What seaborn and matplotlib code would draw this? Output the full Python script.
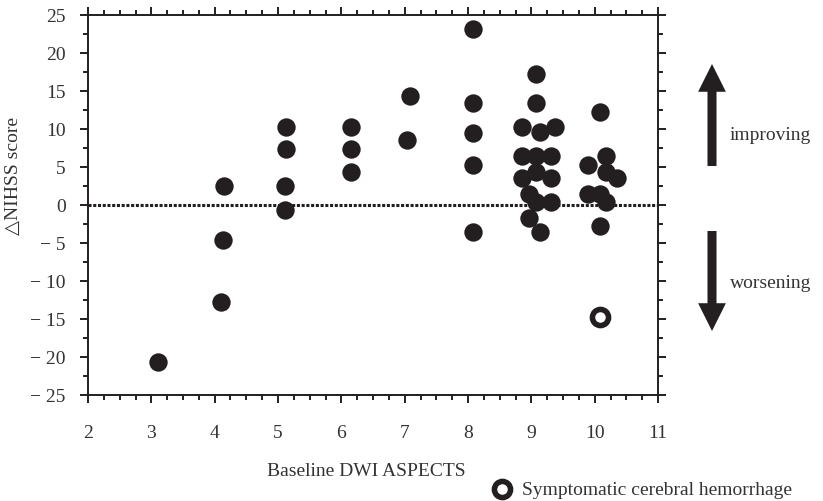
import matplotlib
matplotlib.use('Agg')
import matplotlib.pyplot as plt
from matplotlib.ticker import MultipleLocator
import seaborn as sns

# values (x slightly offset in the original to avoid overlap)
aspects = [3.10,
           4.10, 4.13, 4.14,
           5.12, 5.12, 5.11, 5.11,
           6.16, 6.16, 6.16,
           7.09, 7.04,
           8.08, 8.08, 8.08, 8.08, 8.08,
           9.08, 9.08, 8.86, 9.38, 9.13, 8.86, 9.08, 9.31, 8.86, 9.08, 9.31,
           8.96, 9.08, 9.31, 8.96, 9.13,
           10.08, 10.18, 9.90, 10.18, 10.35, 9.90, 10.08, 10.18, 10.08]
delta_nihss = [-20.7,
               -12.7, -4.6, 2.5,
               10.2, 7.4, 2.5, -0.6,
               10.2, 7.4, 4.3,
               14.4, 8.5,
               23.2, 13.4, 9.5, 5.3, -3.5,
               17.2, 13.4, 10.3, 10.3, 9.6, 6.4, 6.4, 6.4, 3.5, 4.4, 3.5,
               1.5, 0.35, 0.35, -1.7, -3.5,
               12.3, 6.4, 5.3, 4.4, 3.5, 1.5, 1.5, 0.35, -2.7]

# symptomatic cerebral hemorrhage case
sich_aspects = [10.09]
sich_delta = [-14.8]

x_ticks = [2, 3, 4, 5, 6, 7, 8, 9, 10, 11]
y_ticks = [25, 20, 15, 10, 5, 0, -5, -10, -15, -20, -25]
y_tick_labels = ['25', '20', '15', '10', '5', '0', '− 5', '− 10', '− 15', '− 20', '− 25']

sns.set_style('ticks')
plt.rcParams['font.family'] = ['Liberation Serif', 'DejaVu Serif']
plt.rcParams['axes.linewidth'] = 1.4
ink = '#231f20'
txt = '#333333'
fs = 14

fig = plt.figure(figsize=(8.23, 5.02), dpi=100)
ax = fig.add_axes([88 / 823, 1 - 396 / 502, 570 / 823, 380 / 502])

ax.axhline(0, color=ink, lw=2.2, ls=(0, (1, 0.55)), zorder=1)

sns.scatterplot(x=aspects, y=delta_nihss, ax=ax, color=ink, s=175,
                linewidth=0, zorder=3)
sns.scatterplot(x=sich_aspects, y=sich_delta, ax=ax, color='white', s=135,
                edgecolor=ink, linewidth=4, zorder=3)

ax.set_xlim(2, 11)
ax.set_ylim(-25, 25)
ax.set_xticks(x_ticks)
ax.set_yticks(y_ticks)
ax.set_yticklabels(y_tick_labels)
ax.xaxis.set_minor_locator(MultipleLocator(0.25))
ax.yaxis.set_minor_locator(MultipleLocator(2.5))
ax.tick_params(which='both', direction='out', top=True, right=True,
               color=ink, labelcolor=txt, labelsize=fs)
ax.tick_params(which='major', length=6, width=1.4)
ax.tick_params(which='minor', length=3.5, width=1.4)
ax.tick_params(axis='x', which='major', pad=15)
ax.tick_params(axis='y', which='major', pad=10)
for s in ax.spines.values():
    s.set_color(ink)

ax.set_xlabel('Baseline DWI ASPECTS', fontsize=fs, color=txt)
ax.set_ylabel('△NIHSS score', fontsize=fs, color=txt)
ax.xaxis.set_label_coords(0.488, -0.176)
ax.yaxis.set_label_coords(-0.116, 0.579)

# improving / worsening arrows
arrow = dict(arrowstyle='simple,head_width=2.0,head_length=2.0,tail_width=0.65',
             mutation_scale=10, color=ink, shrinkA=0, shrinkB=0, lw=0)
ax.annotate('', xy=(712, 502 - 65), xytext=(712, 502 - 167),
            xycoords='figure pixels', textcoords='figure pixels', arrowprops=arrow)
ax.annotate('', xy=(712, 502 - 332), xytext=(712, 502 - 232),
            xycoords='figure pixels', textcoords='figure pixels', arrowprops=arrow)
fig.text(730 / 823, 1 - 135 / 502, 'improving', fontsize=fs, color=txt,
         ha='left', va='center')
fig.text(730 / 823, 1 - 284 / 502, 'worsening', fontsize=fs, color=txt,
         ha='left', va='center')

handle = ax.collections[-1]
fig.legend(handles=[handle], labels=['Symptomatic cerebral hemorrhage'],
           loc='center left', bbox_to_anchor=(492 / 823, 1 - 490 / 502),
           frameon=False, borderpad=0, borderaxespad=0, handlelength=1,
           handletextpad=0.55, fontsize=fs, labelcolor=txt)

fig.savefig('out.png', dpi=100)
plt.close(fig)
